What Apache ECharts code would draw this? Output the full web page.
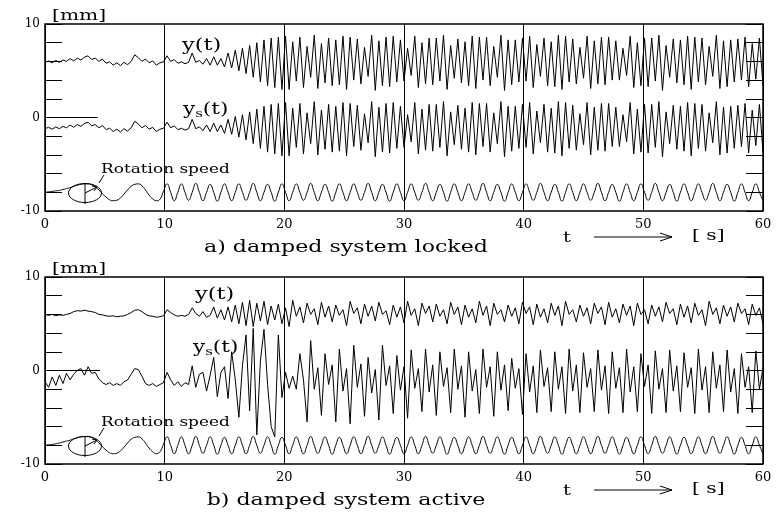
<!DOCTYPE html>
<html><head><meta charset="utf-8">
<script src="https://cdn.jsdelivr.net/npm/echarts@6/dist/echarts.min.js"></script>
<style>html,body{margin:0;padding:0;background:#fff}#c{width:784px;height:518px}</style>
</head><body><div id="c"></div>
<script>
// ---------------- data (time in s, values in mm) ----------------
const xTickValues = [0, 10, 20, 30, 40, 50, 60];
const yTickLabels = [-10, 0, 10];
const panelTitles = ['a) damped system locked', 'b) damped system active'];
const unitLabel = '[mm]';
const sampleStep = 0.3; // seconds between the samples below (index i -> t = i*0.3)

// a) damped system locked
const rotLocked = [
-8.0,-7.95,-7.9,-7.85,-7.8,-7.7,-7.6,-7.5,-7.35,-7.25,
-7.15,-7.1,-7.1,-7.2,-7.4,-7.75,-8.15,-8.5,-8.8,-8.9,
-8.85,-8.6,-8.2,-7.75,-7.35,-7.15,-7.1,-7.3,-7.75,-8.3,
-8.7,-8.9,-8.75,-7.9,-7.1,
-8.0,-8.9,-8.0,-7.1, -8.0,-8.85,-8.0,-7.05, -8.0,-8.9,-8.0,-7.15, -8.0,-8.95,-8.0,-7.1,
-8.0,-8.9,-8.0,-7.1, -8.0,-8.85,-8.0,-7.05, -8.0,-8.9,-8.0,-7.15, -8.0,-8.95,-8.0,-7.1,
-8.0,-8.9,-8.0,-7.1, -8.0,-8.85,-8.0,-7.05, -8.0,-8.9,-8.0,-7.15, -8.0,-8.95,-8.0,-7.1,
-8.0,-8.9,-8.0,-7.1, -8.0,-8.85,-8.0,-7.05, -8.0,-8.9,-8.0,-7.15, -8.0,-8.95,-8.0,-7.1,
-8.0,-8.9,-8.0,-7.1, -8.0,-8.85,-8.0,-7.05, -8.0,-8.9,-8.0,-7.15, -8.0,-8.95,-8.0,-7.1,
-8.0,-8.9,-8.0,-7.1, -8.0,-8.85,-8.0,-7.05, -8.0,-8.9,-8.0,-7.15, -8.0,-8.95,-8.0,-7.1,
-8.0,-8.9,-8.0,-7.1, -8.0,-8.85,-8.0,-7.05, -8.0,-8.9,-8.0,-7.15, -8.0,-8.95,-8.0,-7.1,
-8.0,-8.9,-8.0,-7.1, -8.0,-8.85,-8.0,-7.05, -8.0,-8.9,-8.0,-7.15, -8.0,-8.95,-8.0,-7.1,
-8.0,-8.9,-8.0,-7.1, -8.0,-8.85,-8.0,-7.05, -8.0,-8.9,-8.0,-7.15, -8.0,-8.95,-8.0,-7.1,
-8.0,-8.9,-8.0,-7.1, -8.0,-8.85,-8.0,-7.05, -8.0,-8.9,-8.0,-7.15, -8.0,-8.95,-8.0,-7.1,
-8.0,-8.9,-8.0,-7.1, -8.0,-8.9];

const yLocked = [
5.9,6.05,5.85,6.1,5.9,6.15,6.0,6.3,6.05,6.35,
6.15,6.45,6.6,6.2,6.35,6.0,6.25,5.8,5.95,5.6,
5.85,5.55,5.9,5.65,6.0,6.7,6.4,6.0,6.25,5.85,
6.05,5.6,5.85,5.95,6.6,6.0,6.2,5.8,5.95,5.75,
5.9,6.9,5.9,6.1,5.7,6.3,5.6,6.5,5.6,6.3,
5.4,6.9,5.3,7.2,5.0,7.4,4.7,7.7,4.3,8.0,
3.8,8.3,3.4,8.5,3.2,8.6,3.0,
8.7,3.0,8.1,3.9, 8.6,3.2,7.6,4.3, 8.8,3.1,7.9,3.7, 8.5,3.4,8.3,3.5,
8.7,3.0,8.6,4.0, 8.4,3.6,7.5,4.4, 8.8,2.9,8.2,3.4, 8.6,3.3,8.7,3.8,
8.3,3.9,7.4,4.5, 8.7,3.2,8.0,3.6, 8.5,3.5,8.5,3.9, 8.8,3.0,7.7,4.2,
8.4,3.7,8.1,3.4, 8.7,3.1,8.6,4.0, 8.6,3.4,7.6,4.3, 8.8,2.9,8.3,3.5,
8.3,3.8,8.5,3.9, 8.7,3.2,7.8,4.4, 8.5,3.4,8.1,3.3, 8.8,3.0,8.7,3.8,
8.4,3.6,7.5,4.2, 8.7,3.1,8.2,3.6, 8.6,3.5,8.6,4.0, 8.2,4.0,7.4,4.5,
8.7,3.2,8.0,3.4, 8.5,3.3,8.5,3.9, 8.8,2.9,7.7,4.3, 8.4,3.7,8.3,3.5,
8.7,3.0,8.6,3.8, 8.5,3.5,7.6,4.4, 8.8,3.1,8.2,3.3, 8.3,3.8,8.4,4.0,
8.6,3.3,7.9,4.1, 8.5,3.4];

const ysLocked = [
-1.2,-1.05,-1.25,-1.0,-1.2,-0.95,-1.1,-0.8,-1.05,-0.75,
-0.95,-0.65,-0.5,-0.9,-0.75,-1.1,-0.85,-1.3,-1.15,-1.5,
-1.25,-1.55,-1.2,-1.45,-1.1,-0.4,-0.7,-1.1,-0.85,-1.25,
-1.05,-1.5,-1.25,-1.15,-0.5,-1.1,-0.9,-1.3,-1.15,-1.35,
-1.2,-0.2,-1.2,-1.0,-1.4,-0.8,-1.5,-0.6,-1.5,-0.8,
-1.7,-0.2,-1.8,0.1,-2.1,0.3,-2.4,0.6,-2.8,0.9,
-3.3,1.2,-3.7,1.4,-3.9,1.5,-4.1,
1.6,-4.1,1.0,-3.2, 1.5,-3.9,0.5,-2.8, 1.7,-4.0,0.8,-3.4, 1.4,-3.7,1.2,-3.6,
1.6,-4.1,1.5,-3.1, 1.3,-3.5,0.4,-2.7, 1.7,-4.2,1.1,-3.7, 1.5,-3.8,1.6,-3.3,
1.2,-3.2,0.3,-2.6, 1.6,-3.9,0.9,-3.5, 1.4,-3.6,1.4,-3.2, 1.7,-4.1,0.6,-2.9,
1.3,-3.4,1.0,-3.7, 1.6,-4.0,1.5,-3.1, 1.5,-3.7,0.5,-2.8, 1.7,-4.2,1.2,-3.6,
1.2,-3.3,1.4,-3.2, 1.6,-3.9,0.7,-2.7, 1.4,-3.7,1.0,-3.8, 1.7,-4.1,1.6,-3.3,
1.3,-3.5,0.4,-2.9, 1.6,-4.0,1.1,-3.5, 1.5,-3.6,1.5,-3.1, 1.1,-3.1,0.3,-2.6,
1.6,-3.9,0.9,-3.7, 1.4,-3.8,1.4,-3.2, 1.7,-4.2,0.6,-2.8, 1.3,-3.4,1.2,-3.6,
1.6,-4.1,1.5,-3.3, 1.4,-3.6,0.5,-2.7, 1.7,-4.0,1.1,-3.8, 1.2,-3.3,1.3,-3.1,
1.5,-3.8,0.8,-3.0, 1.4,-3.7];

// b) damped system active
const rotActive = [
-8.0,-7.95,-7.9,-7.85,-7.75,-7.65,-7.55,-7.45,-7.3,-7.2,
-7.1,-7.05,-7.05,-7.15,-7.4,-7.75,-8.15,-8.5,-8.8,-8.9,
-8.85,-8.6,-8.2,-7.75,-7.35,-7.15,-7.1,-7.3,-7.75,-8.3,
-8.7,-8.9,-8.7,-7.9,-7.1,
-8.0,-8.9,-8.0,-7.1, -8.0,-8.9,-8.0,-7.05, -8.0,-8.85,-8.0,-7.1, -8.0,-8.95,-8.0,-7.15,
-8.0,-8.9,-8.0,-7.1, -8.0,-8.9,-8.0,-7.05, -8.0,-8.85,-8.0,-7.1, -8.0,-8.95,-8.0,-7.15,
-8.0,-8.9,-8.0,-7.1, -8.0,-8.9,-8.0,-7.05, -8.0,-8.85,-8.0,-7.1, -8.0,-8.95,-8.0,-7.15,
-8.0,-8.9,-8.0,-7.1, -8.0,-8.9,-8.0,-7.05, -8.0,-8.85,-8.0,-7.1, -8.0,-8.95,-8.0,-7.15,
-8.0,-8.9,-8.0,-7.1, -8.0,-8.9,-8.0,-7.05, -8.0,-8.85,-8.0,-7.1, -8.0,-8.95,-8.0,-7.15,
-8.0,-8.9,-8.0,-7.1, -8.0,-8.9,-8.0,-7.05, -8.0,-8.85,-8.0,-7.1, -8.0,-8.95,-8.0,-7.15,
-8.0,-8.9,-8.0,-7.1, -8.0,-8.9,-8.0,-7.05, -8.0,-8.85,-8.0,-7.1, -8.0,-8.95,-8.0,-7.15,
-8.0,-8.9,-8.0,-7.1, -8.0,-8.9,-8.0,-7.05, -8.0,-8.85,-8.0,-7.1, -8.0,-8.95,-8.0,-7.15,
-8.0,-8.9,-8.0,-7.1, -8.0,-8.9,-8.0,-7.05, -8.0,-8.85,-8.0,-7.1, -8.0,-8.95,-8.0,-7.15,
-8.0,-8.9,-8.0,-7.1, -8.0,-8.9,-8.0,-7.05, -8.0,-8.85,-8.0,-7.1, -8.0,-8.95,-8.0,-7.15,
-8.0,-8.9,-8.0,-7.1, -8.0,-8.9];

const yActive = [
6.0,5.9,6.0,5.85,5.95,5.9,6.0,6.1,6.3,6.4,
6.35,6.45,6.35,6.3,6.2,6.0,5.95,5.85,5.8,5.85,
5.75,5.8,5.85,6.0,6.2,6.45,6.5,6.3,6.0,5.85,
5.8,5.7,5.75,5.85,6.5,6.2,5.95,5.8,5.9,5.8,
6.0,6.7,6.1,5.8,6.3,5.7,5.9,6.8,5.6,6.5,
5.4,6.8,5.2,7.0,5.0,7.3,4.8,7.5,4.7,7.2,
5.3,7.4,4.9,6.9,5.4,7.1,5.0,
6.7,
4.7,7.5,5.8,6.8, 5.1,7.2,6.0,6.6, 4.9,7.3,5.7,6.9, 5.2,7.0,5.9,6.5,
4.8,7.4,6.1,6.7, 5.0,7.1,5.8,6.9, 5.3,7.3,6.0,6.4, 4.9,7.0,5.7,6.8,
5.1,7.4,5.9,6.6, 4.8,7.2,6.1,6.9, 5.2,7.1,5.8,6.5, 5.0,7.3,6.0,6.8,
4.9,7.0,5.7,6.6, 5.1,7.4,5.9,6.9, 4.8,7.2,6.0,6.5, 5.2,7.0,5.8,6.7,
5.0,7.3,6.1,6.8, 4.9,7.1,5.7,6.6, 5.1,7.2,5.9,6.9, 4.8,7.4,6.0,6.5,
5.2,7.0,5.8,6.7, 5.0,7.2,6.1,6.8, 4.9,7.3,5.7,6.6, 5.1,7.1,5.9,6.9,
4.8,7.2,6.0,6.5, 5.0,7.0,5.8,6.8, 5.2,7.3,6.1,6.6, 4.9,7.1,5.7,6.9,
5.1,7.2,5.9,6.5, 4.8,7.4,6.0,6.7, 5.0,7.0,5.8,6.8, 5.2,7.2,6.1,6.6,
4.9,7.1,5.9,6.7, 5.0];

const ysActive = [
-1.2,-1.8,-0.7,-1.6,-0.5,-1.4,-0.3,-1.0,-0.4,0.0,
0.2,-0.5,0.4,-0.3,-0.2,-0.9,-1.3,-1.5,-1.3,-1.6,
-1.4,-1.6,-1.2,-1.0,-0.4,0.2,0.1,-0.6,-1.4,-1.6,
-1.4,-1.7,-1.5,-1.3,-0.2,-1.0,-1.6,-1.2,-1.7,-1.3,
-1.5,0.5,-1.8,-0.4,-0.2,-2.2,-0.5,1.4,-2.8,-0.2,
0.4,-3.0,2.0,-1.0,-5.0,0.5,3.8,-4.3,4.5,-6.9,
1.0,4.4,-1.5,-6.0,-7.1,3.8,-2.9,
-0.2,-1.9,-0.6,-2.0,1.8,-1.0,-5.5,3.2,
-2.0,0.3,-4.8,1.8, -1.5,0.6,-5.5,2.3, -2.2,0.2,-5.7,2.7, -1.8,0.7,-4.9,1.4,
-2.4,0.1,-5.3,2.7, -1.6,0.5,-4.6,1.6, -2.1,0.4,-5.1,2.2, -1.9,0.2,-4.4,2.3,
-2.3,0.6,-4.8,2.0, -1.7,0.3,-4.5,2.3, -2.0,0.5,-5.0,2.0, -2.2,0.1,-4.6,2.3,
-1.8,0.4,-4.9,2.0, -2.1,0.6,-4.3,1.3, -1.9,0.2,-4.7,1.8, -2.3,0.5,-4.5,2.2,
-1.7,0.3,-4.4,2.0, -2.0,0.4,-4.6,2.3, -2.2,0.6,-4.5,1.9, -1.8,0.2,-4.4,2.2,
-2.1,0.5,-4.6,2.0, -1.9,0.3,-4.5,2.3, -2.3,0.4,-4.4,1.8, -1.7,0.6,-4.6,2.1,
-2.0,0.2,-4.5,2.2, -2.2,0.5,-4.4,1.9, -1.8,0.3,-4.6,2.3, -2.1,0.4,-4.5,2.0,
-1.9,0.6,-4.4,2.2, -2.3,0.2,-4.6,1.8, -1.8,0.4,-4.5,2.1,
-2.0,0.3];

// ---------------- chart ----------------
const FONT = 'DejaVu Serif';
const toPairs = vals => vals.map((v, i) => [Math.round(i * sampleStep * 100) / 100, v]);
const chart = echarts.init(document.getElementById('c'));
const grids = [
  {left: 45, top: 24, width: 718, height: 187},
  {left: 45, top: 277, width: 718, height: 187}
];
function xAx(i) {
  return {type: 'value', gridIndex: i, min: xTickValues[0], max: xTickValues[xTickValues.length - 1], interval: 10,
    axisLine: {show: false}, axisTick: {show: false},
    axisLabel: {color: '#000', fontFamily: FONT, fontSize: 13, margin: 7},
    splitLine: {show: true, lineStyle: {color: '#000', width: 1}}};
}
function yAx(i, right) {
  return {type: 'value', gridIndex: i, min: -10, max: 10, interval: 2, position: right ? 'right' : 'left',
    axisLine: {show: false},
    axisTick: {show: true, inside: true, length: 17, lineStyle: {color: '#000', width: 1}},
    axisLabel: {show: !right, color: '#000', fontFamily: FONT, fontSize: 12, margin: 5,
      formatter: v => (yTickLabels.indexOf(v) >= 0 ? String(v) : '')},
    splitLine: {show: false}};
}
function line(vals, xi, yi, smooth) {
  return {type: 'line', xAxisIndex: xi, yAxisIndex: yi, data: toPairs(vals), showSymbol: false,
    smooth: smooth ? 0.5 : false, clip: true, lineStyle: {color: '#000', width: 1}, animation: false};
}
function zeroRef(xi, yi, tEnd) {
  return {type: 'line', xAxisIndex: xi, yAxisIndex: yi, data: [], markLine: {symbol: 'none', silent: true,
    lineStyle: {color: '#000', width: 1, type: 'solid'}, label: {show: false},
    data: [[{coord: [0, 0]}, {coord: [tEnd, 0]}]]}};
}

const graphic = [];
function addText(x, y, txt, size, sx, align) {
  graphic.push({type: 'text', x: x, y: y, scaleX: sx || 1, style: {text: txt, fontFamily: FONT, fontSize: size, fill: '#000',
    align: align || 'left', verticalAlign: 'middle'}});
}
function addRich(x, y, size, sx) {
  graphic.push({type: 'text', x: x, y: y, scaleX: sx || 1, style: {text: '{a|y}{b|s}{a|(t)}',
    verticalAlign: 'middle', rich: {a: {fontFamily: FONT, fontSize: size, fill: '#000'},
      b: {fontFamily: FONT, fontSize: Math.round(size * 0.7), fill: '#000', padding: [Math.round(size * 0.5), 0, 0, 0]}}}});
}
const seg = (pts) => graphic.push({type: 'polyline', shape: {points: pts}, style: {stroke: '#000', lineWidth: 1, fill: null}});
[0, 253].forEach((dy, i) => {
  addText(52, 16 + dy, unitLabel, 15, 1.35);
  addText(346, 248 + dy, panelTitles[i], 17, 1.3, 'center');
  addText(563, 238 + dy, 't', 15, 1.3);
  addText(692, 236 + dy, '[ s]', 15, 1.35);
  seg([[594, 237 + dy], [672, 237 + dy]]);
  seg([[660, 233 + dy], [672, 237 + dy], [660, 241 + dy]]);
  addText(101, 170 + dy, 'Rotation speed', 13, 1.3);
  graphic.push({type: 'ellipse', shape: {cx: 85, cy: 193 + dy, rx: 16.5, ry: 9.5}, style: {stroke: '#000', lineWidth: 1, fill: null}});
  seg([[85, 183 + dy], [85, 204 + dy]]);
  seg([[85, 193 + dy], [97, 187 + dy]]);
  seg([[92, 186 + dy], [97, 187 + dy], [94, 191 + dy]]);
  seg([[99, 183 + dy], [104, 175 + dy]]);
});
addText(182, 46, 'y(t)', 16, 1.4);
addRich(183, 110, 16, 1.35);
addText(195, 295, 'y(t)', 16, 1.4);
addRich(193, 348, 16, 1.35);

chart.setOption({
  animation: false,
  grid: grids.map(g => Object.assign({show: true, borderColor: '#000', borderWidth: 1.5}, g)),
  xAxis: [xAx(0), xAx(1)],
  yAxis: [yAx(0, false), yAx(0, true), yAx(1, false), yAx(1, true)],
  series: [
    line(yLocked, 0, 0), line(ysLocked, 0, 0), line(rotLocked, 0, 0, true),
    line(yActive, 1, 2), line(ysActive, 1, 2), line(rotActive, 1, 2, true),
    zeroRef(0, 0, 4.4), zeroRef(1, 2, 4.6)
  ],
  graphic: graphic
});
</script></body></html>
